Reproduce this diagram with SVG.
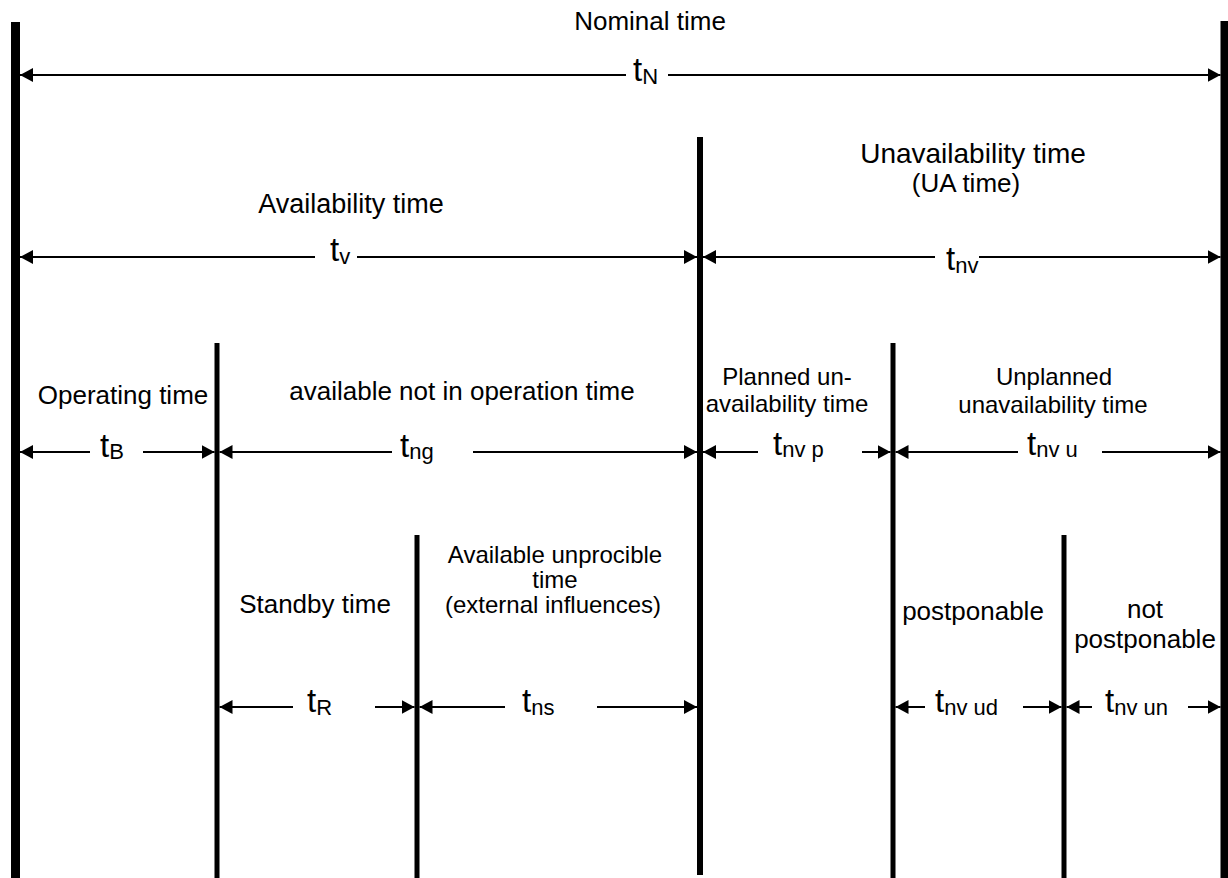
<svg xmlns="http://www.w3.org/2000/svg" width="1228" height="878" viewBox="0 0 1228 878">
<style>
text{font-family:"Liberation Sans",Arial,sans-serif;fill:#000}
.l{font-size:26px;text-anchor:middle}
.s{font-size:24px;text-anchor:middle}
.t{font-size:33px}
.sub{font-size:22px}
.bar{fill:#000}
.ln{stroke:#000;stroke-width:2;fill:none}
.a{marker-end:url(#ah)}
.b{marker-start:url(#ah)}
</style>
<defs>
<marker id="ah" viewBox="0 0 13 14" refX="13" refY="7" markerWidth="13" markerHeight="14" orient="auto-start-reverse" markerUnits="userSpaceOnUse">
<path d="M0,0 L13,7 L0,14 z" fill="#000"/>
</marker>
</defs>
<rect width="1228" height="878" fill="#fff"/>
<g id="bars">
<rect id="bar-start" class="bar" x="11" y="22" width="9" height="856"/>
<rect id="bar-end" class="bar" x="1220.5" y="21" width="8" height="857"/>
<rect id="bar-ua" class="bar" x="697" y="137" width="6" height="738"/>
<rect id="bar-op" class="bar" x="214.5" y="343" width="5" height="535"/>
<rect id="bar-planned" class="bar" x="890.5" y="343" width="5" height="535"/>
<rect id="bar-standby" class="bar" x="414.5" y="535" width="5" height="343"/>
<rect id="bar-postpone" class="bar" x="1061.5" y="535" width="5" height="343"/>
</g>
<g id="connectors">
<line class="ln b" x1="20" y1="75" x2="626" y2="75"/>
<line class="ln a" x1="668" y1="75" x2="1220.5" y2="75"/>
<line class="ln b" x1="20" y1="257" x2="315" y2="257"/>
<line class="ln a" x1="357" y1="257" x2="697" y2="257"/>
<line class="ln b" x1="703" y1="257" x2="935" y2="257"/>
<line class="ln a" x1="979" y1="257" x2="1220.5" y2="257"/>
<line class="ln b" x1="20" y1="452" x2="90" y2="452"/>
<line class="ln a" x1="143" y1="452" x2="214.5" y2="452"/>
<line class="ln b" x1="219.5" y1="452" x2="392" y2="452"/>
<line class="ln a" x1="473" y1="452" x2="697" y2="452"/>
<line class="ln b" x1="703" y1="452" x2="758" y2="452"/>
<line class="ln a" x1="862" y1="452" x2="890.5" y2="452"/>
<line class="ln b" x1="895.5" y1="452" x2="1018" y2="452"/>
<line class="ln a" x1="1102" y1="452" x2="1220.5" y2="452"/>
<line class="ln b" x1="219.5" y1="707" x2="293" y2="707"/>
<line class="ln a" x1="375" y1="707" x2="414.5" y2="707"/>
<line class="ln b" x1="419.5" y1="707" x2="505" y2="707"/>
<line class="ln a" x1="597" y1="707" x2="697" y2="707"/>
<line class="ln b" x1="895.5" y1="707" x2="925" y2="707"/>
<line class="ln a" x1="1023" y1="707" x2="1061.5" y2="707"/>
<line class="ln b" x1="1066.5" y1="707" x2="1092" y2="707"/>
<line class="ln a" x1="1188" y1="707" x2="1220.5" y2="707"/>
</g>
<g id="nominal">
<text class="l" x="650" y="30">Nominal time</text>
<text class="t" x="633" y="81">t<tspan class="sub" dy="3">N</tspan></text>
</g>
<g id="availability">
<text class="l" x="351" y="213" style="font-size:27px">Availability time</text>
<text class="t" x="330" y="261">t<tspan class="sub" dy="3">v</tspan></text>
</g>
<g id="unavailability">
<text class="l" x="973" y="163" style="font-size:28px">Unavailability time</text>
<text class="l" x="966" y="192">(UA time)</text>
<text class="t" x="946" y="270">t<tspan class="sub" dy="3">nv</tspan></text>
</g>
<g id="operating">
<text class="l" x="123" y="404">Operating time</text>
<text class="t" x="100" y="457">t<tspan class="sub" dy="2">B</tspan></text>
</g>
<g id="not-in-operation">
<text class="l" x="462" y="400">available not in operation time</text>
<text class="t" x="400" y="457">t<tspan class="sub" dy="2">ng</tspan></text>
</g>
<g id="planned">
<text class="s" x="787" y="385">Planned un-</text>
<text class="s" x="787" y="412">availability time</text>
<text class="t" x="773" y="455">t<tspan class="sub" dy="2">nv p</tspan></text>
</g>
<g id="unplanned">
<text class="s" x="1054" y="385">Unplanned</text>
<text class="s" x="1053" y="413">unavailability time</text>
<text class="t" x="1027" y="455">t<tspan class="sub" dy="2">nv u</tspan></text>
</g>
<g id="standby">
<text class="l" x="315" y="613">Standby time</text>
<text class="t" x="307" y="712">t<tspan class="sub" dy="3">R</tspan></text>
</g>
<g id="unprocible">
<text class="s" x="555" y="563">Available unprocible</text>
<text class="s" x="555" y="588">time</text>
<text class="s" x="553" y="613">(external influences)</text>
<text class="t" x="522" y="712">t<tspan class="sub" dy="3">ns</tspan></text>
</g>
<g id="postponable">
<text class="l" x="973" y="620">postponable</text>
<text class="t" x="935" y="712">t<tspan class="sub" dy="3">nv ud</tspan></text>
</g>
<g id="not-postponable">
<text class="l" x="1145" y="618">not</text>
<text class="l" x="1145" y="648">postponable</text>
<text class="t" x="1105" y="712">t<tspan class="sub" dy="3">nv un</tspan></text>
</g>
</svg>
